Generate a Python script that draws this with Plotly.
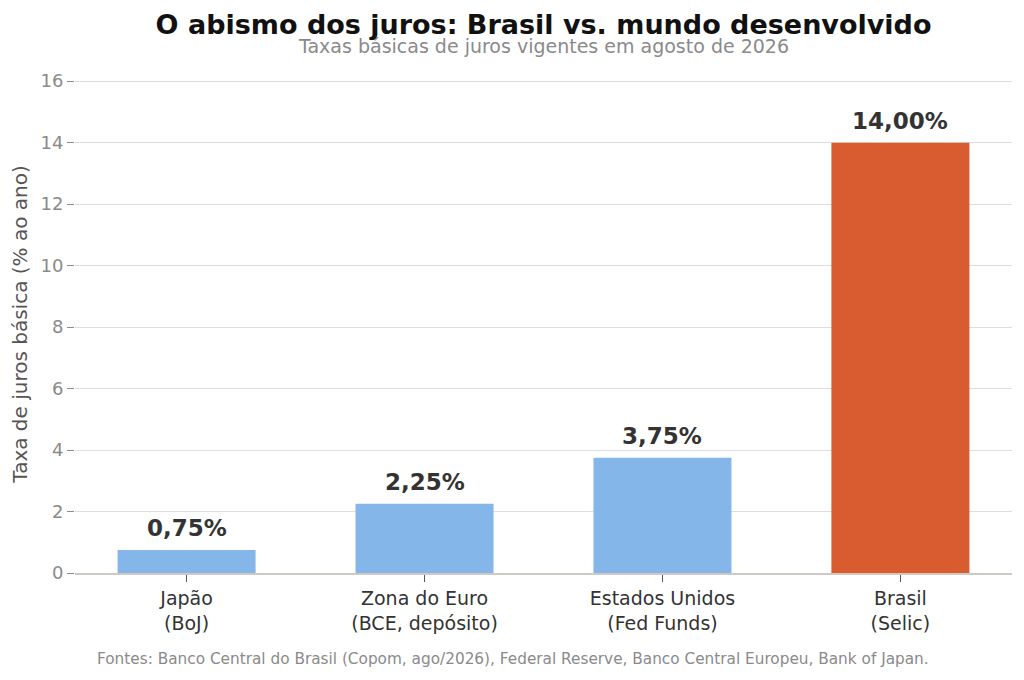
import plotly.graph_objects as go

# Dados: taxas básicas de juros (agosto de 2026)
categorias = ["Japão<br>(BoJ)", "Zona do Euro<br>(BCE, depósito)",
              "Estados Unidos<br>(Fed Funds)", "Brasil<br>(Selic)"]
taxas = [0.75, 2.25, 3.75, 14.00]
cores = ["#85b6ea", "#85b6ea", "#85b6ea", "#d95b30"]
rotulos = ["0,75%", "2,25%", "3,75%", "14,00%"]
ticks_y = [0, 2, 4, 6, 8, 10, 12, 14, 16]

fig = go.Figure()
fig.add_trace(go.Bar(
    x=categorias, y=taxas,
    marker=dict(color=cores, line=dict(width=0)),
    width=0.58,
    hoverinfo="skip",
))

# rótulos acima das barras
for cat, v, txt in zip(categorias, taxas, rotulos):
    fig.add_annotation(x=cat, y=v, text="<b>" + txt + "</b>", showarrow=False,
                       yanchor="bottom", yshift=7,
                       font=dict(size=23, color="#333333"))

fig.update_layout(
    width=1024, height=680,
    font=dict(family="DejaVu Sans", color="#333333"),
    paper_bgcolor="white", plot_bgcolor="white",
    margin=dict(l=67, r=20, t=67, b=115),
    showlegend=False,
    title=dict(text="<b>O abismo dos juros: Brasil vs. mundo desenvolvido</b>",
               x=0.523, xanchor="center", y=0.975, yanchor="middle",
               font=dict(size=27, color="#111111")),
)

fig.add_annotation(text="Taxas básicas de juros vigentes em agosto de 2026",
                   xref="paper", yref="paper", x=0.5, y=1.0, yshift=29,
                   xanchor="center", yanchor="middle", showarrow=False,
                   font=dict(size=19, color="#8a8a8a"))
fig.add_annotation(text="Fontes: Banco Central do Brasil (Copom, ago/2026), Federal Reserve, Banco Central Europeu, Bank of Japan.",
                   xref="paper", yref="paper", x=0.467, y=0, yshift=-86,
                   xanchor="center", yanchor="middle", showarrow=False,
                   font=dict(size=15.3, color="#8a8a8a"))

fig.update_xaxes(
    range=[-0.469, 3.469],
    automargin=False,
    showgrid=False,
    showline=True, linecolor="#cccac2", linewidth=2,
    ticks="outside", ticklen=7, tickcolor="#555555",
    tickfont=dict(size=19, color="#333333"),
)
fig.update_yaxes(
    range=[0, 16.2],
    automargin=False,
    tickvals=ticks_y,
    showgrid=True, gridcolor="#dddddd", gridwidth=1,
    zeroline=False, showline=False,
    ticks="outside", ticklen=7, tickcolor="#8a8a8a",
    tickfont=dict(size=18, color="#8a8a8a"),
    title=dict(text="Taxa de juros básica (% ao ano)", standoff=11,
               font=dict(size=20, color="#555555")),
)

fig.write_html("out.html")
